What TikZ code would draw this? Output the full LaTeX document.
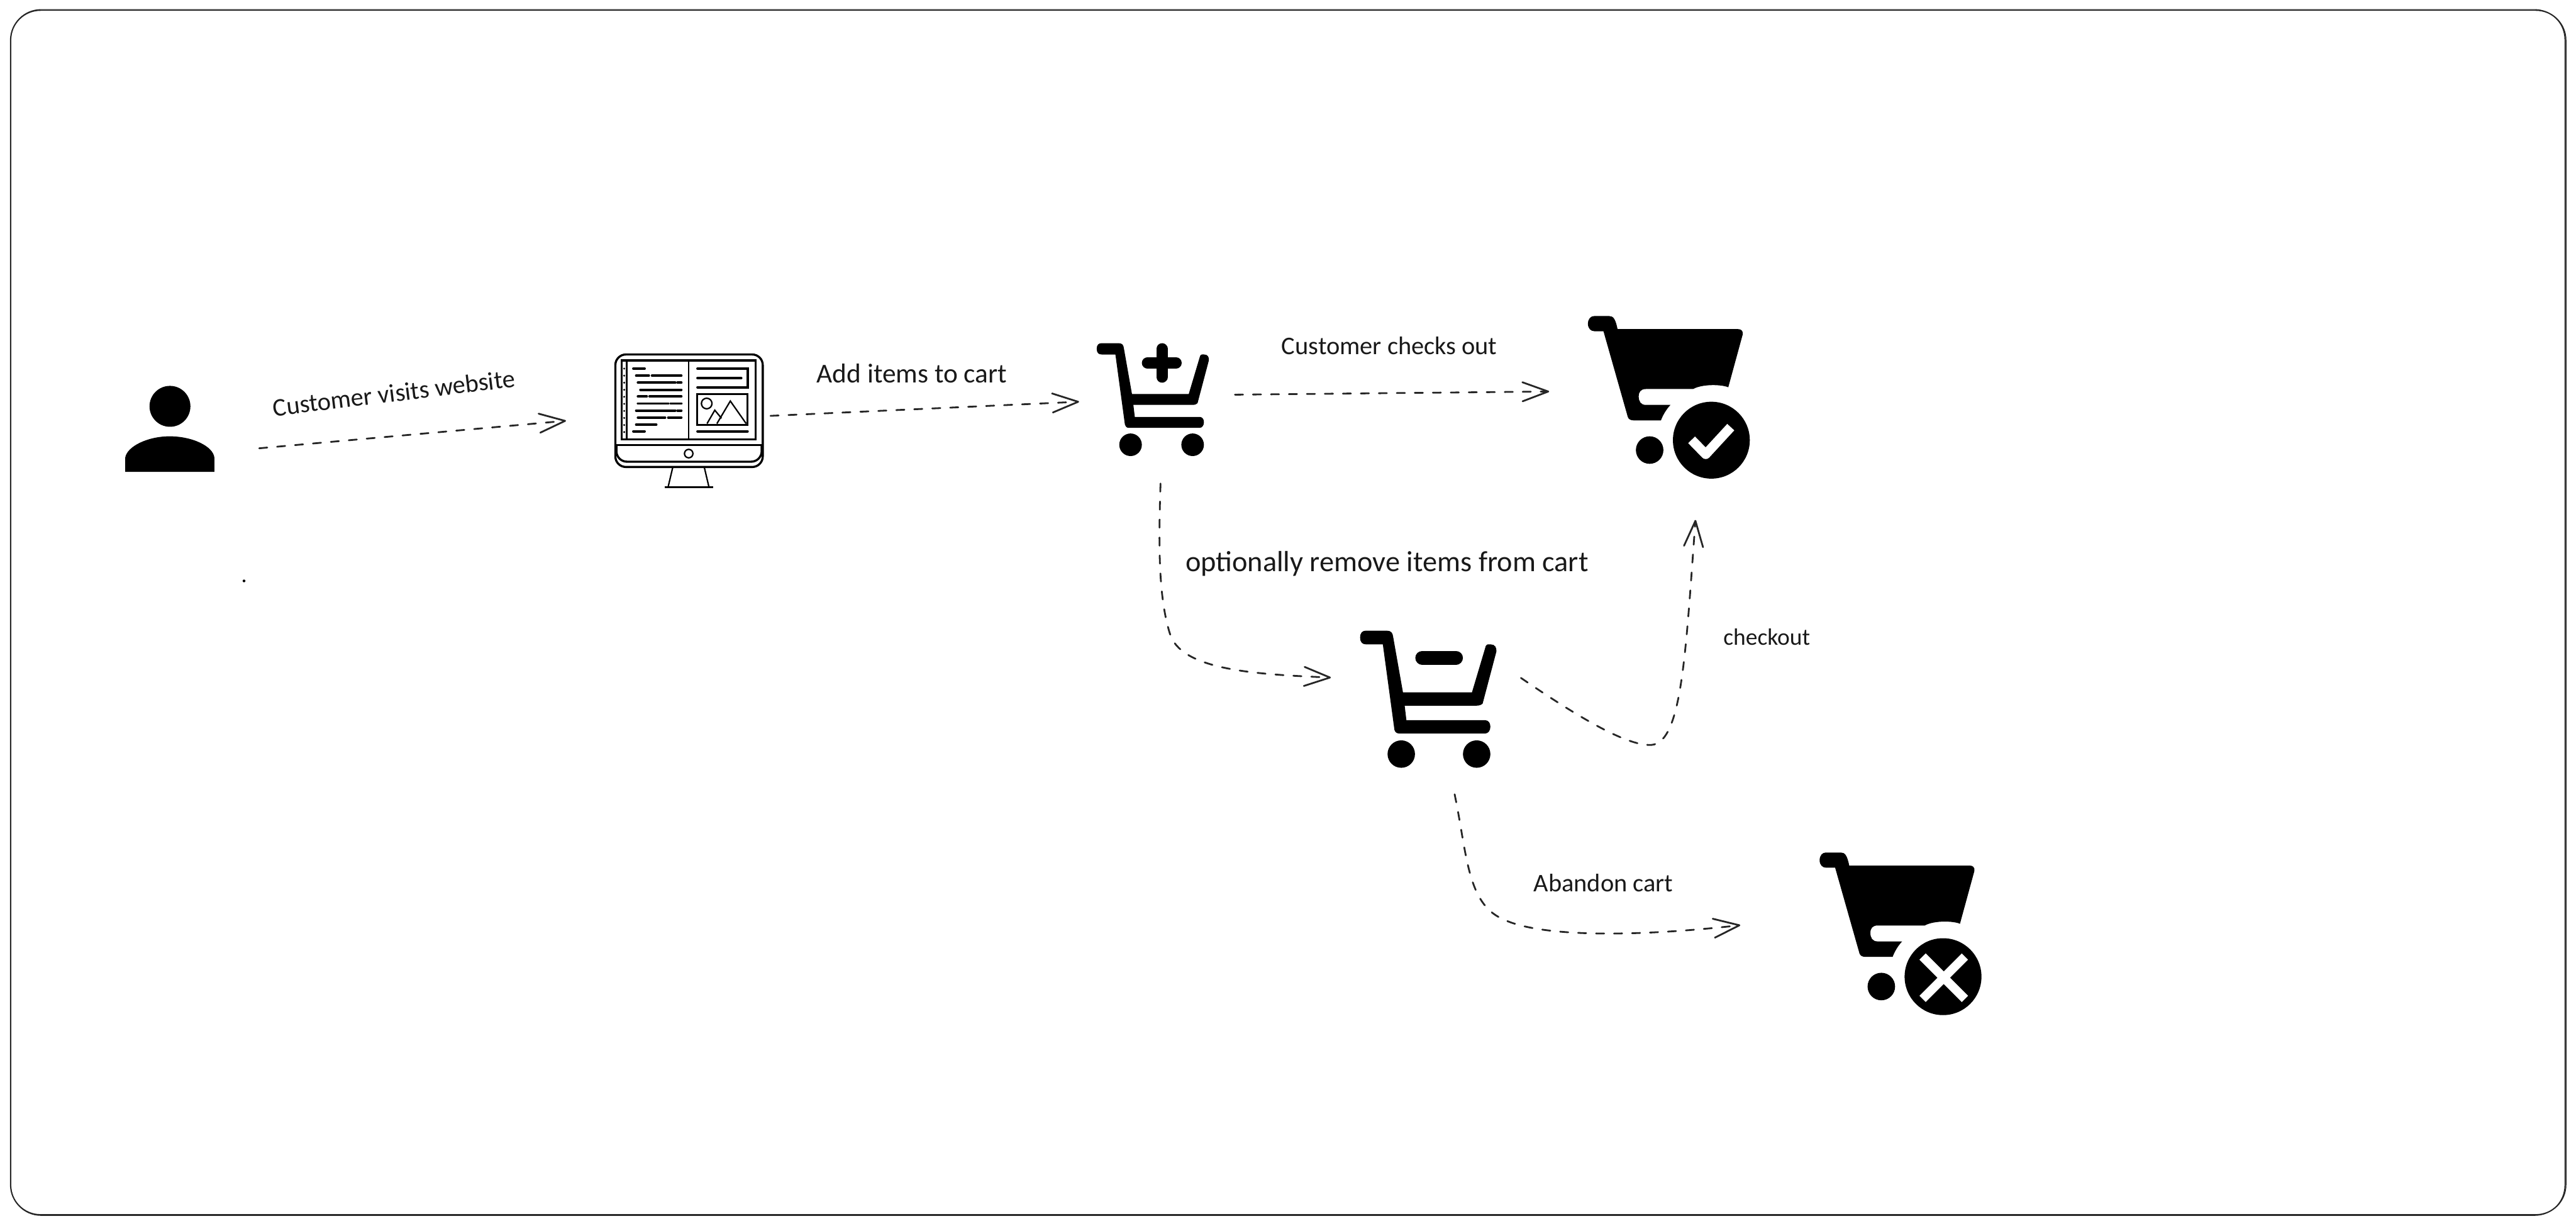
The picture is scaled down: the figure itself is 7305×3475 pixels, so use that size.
\documentclass[tikz,border=0pt]{standalone}
\usepackage{fontspec}
\setmainfont{Carlito}
\usetikzlibrary{arrows.meta}
\tikzset{
  flow/.style={line width=0.5mm, line cap=round, dash pattern=on 2.3mm off 2.8mm, draw=black!85, -{Straight Barb[length=7.3mm, width=5.4mm, line width=0.5mm, round]}},
  lbl/.style={inner sep=0pt, text=black!90, font=\fontsize{#1}{#1}\selectfont},
  lbl/.default=20.5,
  screenline/.style={line width=0.7mm, line cap=round},
  frameline/.style={line width=0.35mm, rounded corners=8.5mm, draw=black!85},
  cart/.pic={
    % cart body, handle at top left
    \fill (0,16) .. controls (0,4) and (6,0) .. (14,0) -- (62,0) .. controls (72,0) and (76,5) .. (77,14)
      -- (100,144) -- (261,144) -- (292,40) .. controls (294,30) and (299,32) .. (305,32)
      .. controls (315,32) and (319,40) .. (318,49) -- (286,170) .. controls (284,172) and (280,175) .. (272,175)
      -- (104,175) -- (108,209) -- (292,209) .. controls (299,209) and (304,215) .. (304,224)
      .. controls (304,233) and (299,240) .. (292,240) -- (91,240) .. controls (85,240) and (81,236) .. (80,231)
      -- (53,32) -- (14,32) .. controls (6,32) and (0,28) .. (0,16) -- cycle;
    \fill (96,288) circle (32);
    \fill (272,288) circle (32);
  },
  bigcart/.pic={
    % filled cart with a white gap round the badge
    \fill (0,22) .. controls (0,8) and (8,0) .. (18,0) -- (60,0) .. controls (72,0) and (78,8) .. (84,37)
      -- (425,37) .. controls (435,37) and (440,42) .. (439,52) -- (398,202)
      .. controls (380,194) and (325,192) .. (298,207)
      -- (164,207) .. controls (150,207) and (144,215) .. (144,228) .. controls (144,242) and (150,252) .. (164,252)
      -- (234,252) .. controls (222,265) and (213,280) .. (207,296) -- (131,296) .. controls (120,296) and (115,292) .. (113,286)
      -- (44,43) -- (18,43) .. controls (8,43) and (0,35) .. (0,22) -- cycle;
    \fill (175,380) circle (39);
    \fill (350,352) circle (109);
  }
}
\begin{document}
\begin{tikzpicture}[x=0.1mm, y=-0.1mm]
  \useasboundingbox (0,0) rectangle (7305,3475);

  % Frame
  \draw[frameline] (30,29) rectangle (7276,3444);
  \draw[frameline, line width=0.2mm] (31,27) rectangle (7273,3446);

  % Customer
  \fill (482,1152) ellipse (58 and 58);
  \fill (355,1338) -- (355,1298) .. controls (360,1265) and (420,1237) .. (481,1237)
    .. controls (545,1237) and (605,1265) .. (608,1298) -- (608,1338) -- cycle;

  % Monitor
  \begin{scope}[line width=0.6mm]
    \draw[rounded corners=3mm] (1745,1005) rectangle (2163,1324);
    \draw[rounded corners=3mm] (1748,1262) -- (1748,1309) -- (2160,1309) -- (2160,1262);
    \draw (1745,1262) -- (2163,1262);
    \draw (1763,1022) rectangle (2143,1246);
    \draw[line width=0.3mm] (1953,1022) -- (1953,1246);
    \draw (1777,1022) -- (1777,1246);
    \draw[line width=0.4mm] (1953,1286) circle (12);
    \draw[line width=0.4mm] (1908,1324) -- (1895,1379) (1997,1324) -- (2010,1379);
    \draw (1885,1381) -- (2022,1381);
  \end{scope}
  % Monitor, text on the left pane
  \foreach \xa/\xb/\yy in {1796/1828/1045, 1804/1840/1065, 1849/1932/1065, 1809/1915/1085, 1921/1932/1085,
      1816/1932/1105, 1809/1834/1124, 1842/1932/1124, 1809/1895/1144, 1902/1932/1144, 1804/1915/1164,
      1921/1932/1164, 1809/1886/1184, 1895/1932/1184, 1804/1861/1204, 1796/1828/1223} {
    \draw[screenline] (\xa,\yy) -- (\xb,\yy);
  }
  \foreach \yy in {1045,1065,...,1225} {
    \fill (1770,\yy) circle (3);
  }
  % Monitor, right pane
  \draw[screenline] (1978,1045) -- (2120,1045) -- (2120,1098) -- (1978,1098);
  \draw[screenline] (1978,1072) -- (2102,1072);
  \draw[screenline] (1978,1223) -- (2120,1223);
  \draw[line width=0.6mm] (1977,1117) rectangle (2120,1205);
  \draw[line width=0.4mm] (2004,1144) circle (15);
  \draw[line width=0.4mm] (2033,1201) -- (2071,1137) -- (2116,1201);
  \draw[line width=0.4mm] (2005,1201) -- (2027,1163) -- (2046,1186);

  % Cart with plus
  \pic at (3110,973) {cart};
  \draw[line width=3.2mm, line cap=round] (3295,989) -- (3295,1069) (3254,1029) -- (3335,1029);

  % Cart with minus
  \pic[scale=1.215] at (3857,1788) {cart};
  \draw[line width=3.9mm, line cap=round] (4033,1865) -- (4129,1865);

  % Cart checked
  \pic at (4503,896) {bigcart};
  \draw[line width=2.7mm, draw=white, line join=round] (4797,1247) -- (4837,1288) -- (4908,1211);

  % Cart abandoned
  \pic at (5160,2417) {bigcart};
  \draw[line width=2.5mm, draw=white] (5452,2712) -- (5572,2832) (5572,2712) -- (5452,2832);

  % Stray mark
  \fill (692,1647) circle (4);

  % Connector ends
  \coordinate (visitA) at (735,1271);
  \coordinate (visitB) at (1605,1193);
  \coordinate (addA) at (2185,1179);
  \coordinate (addB) at (3060,1139);
  \coordinate (outA) at (3502,1119);
  \coordinate (outB) at (4393,1110);
  \coordinate (removeA) at (3291,1371);
  \coordinate (removeB) at (3774,1921);
  \coordinate (backA) at (4313,1922);
  \coordinate (backB) at (4808,1474);
  \coordinate (dropA) at (4125,2252);
  \coordinate (dropB) at (4935,2623);

  % Connectors
  \draw[flow] (visitA) -- (visitB);
  \draw[flow] (addA) -- (addB);
  \draw[flow] (outA) -- (outB);
  \draw[flow] (removeA) .. controls (3285,1550) and (3285,1700) .. (3320,1804) .. controls (3360,1900) and (3560,1912) .. (removeB);
  \draw[flow] (backA) .. controls (4500,2050) and (4620,2115) .. (4683,2112) .. controls (4770,2105) and (4780,1850) .. (backB);
  \draw[flow] (dropA) .. controls (4160,2420) and (4160,2560) .. (4260,2605) .. controls (4380,2665) and (4700,2650) .. (dropB);

  % Labels
  \node[lbl, rotate=7] (visitlbl) at (1117,1114) {Customer visits website};
  \node[lbl=22] (addlbl) at (2586,1058) {Add items to cart};
  \node[lbl] (outlbl) at (3940,980) {Customer checks out};
  \node[lbl=23.5] (removelbl) at (3933,1598) {optionally remove items from cart};
  \node[lbl=19] (backlbl) at (5010,1806) {checkout};
  \node[lbl] (droplbl) at (4547,2503) {Abandon cart};
\end{tikzpicture}
\end{document}
